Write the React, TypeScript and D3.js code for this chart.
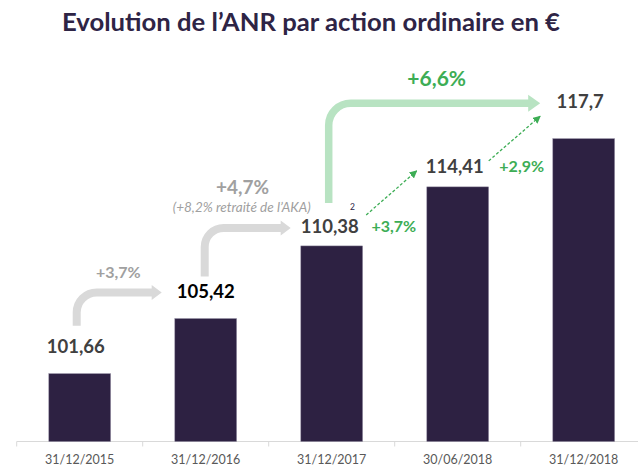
import React from "react";
import * as d3 from "d3";

const categories = ["31/12/2015", "31/12/2016", "31/12/2017", "30/06/2018", "31/12/2018"];
const values = [101.66, 105.42, 110.38, 114.41, 117.7];
const valueLabels = ["101,66", "105,42", "110,38", "114,41", "117,7"];
const greyChanges = ["+3,7%", "+4,7%"];
const greenChanges = ["+3,7%", "+2,9%"];
const totalChange = "+6,6%";
const noteText = "(+8,2% retraité de l’AKA)";
const title = "Evolution de l’ANR par action ordinaire en €";

const W = 638;
const H = 467;
const BASE = 441.5;
const FONT = "Lato, 'Open Sans', sans-serif";
const BAR = "#2d2142";
const GREY_ARROW = "#d9d9d9";
const GREY_TEXT = "#a0a0a0";
const GREEN = "#3dad55";
const LIGHT_GREEN = "#b8e3c2";

// label offsets above the bar tops (styling)
const labelOffsets = [27, 27, 20, 20.5, 37];
const labelDx = [-4, 0, -2, -3, -3.5];
const labelColors = ["#404040", "#000000", "#404040", "#404040", "#404040"];

function bentArrow(vx: number, y0: number, hy: number, tipX: number, r: number, headLen: number, headHalf: number) {
  const baseX = tipX - headLen;
  const line = `M${vx},${y0} L${vx},${hy + r} A${r},${r} 0 0 1 ${vx + r},${hy} L${baseX + 1},${hy}`;
  const head = `M${baseX},${hy - headHalf} L${tipX},${hy} L${baseX},${hy + headHalf} Z`;
  return { line, head };
}

export default function App() {
  const x = d3
    .scaleBand<string>()
    .domain(categories)
    .range([16.7, 646.7])
    .paddingInner(0.51)
    .paddingOuter(0.255);
  const y = d3.scaleLinear().domain([97.03, 120]).range([BASE, BASE - (120 - 97.03) * 14.65]);
  const xc = (i: number) => (x(categories[i]) as number) + x.bandwidth() / 2;
  const step = x.step();
  const labelY = (i: number) => y(values[i]) - labelOffsets[i];

  const a1 = bentArrow(xc(0) - 3, labelY(0) - 21, labelY(1) + 1, xc(1) - 44, 20, 10, 7.5);
  const a2 = bentArrow(xc(1) - 1, labelY(1) - 15, labelY(2) + 2, xc(2) - 41, 19, 10, 7.5);
  const a3 = bentArrow(xc(2) - 3, labelY(2) - 23, labelY(4) + 1.6, xc(4) - 43.5, 22, 12, 8.5);

  const dashed = [
    { x1: xc(2) + 34.5, y1: labelY(2) - 11, x2: xc(3) - 41, y2: labelY(3) + 4.5 },
    { x1: xc(3) + 31, y1: labelY(3) - 5.5, x2: xc(4) - 43.5, y2: labelY(4) + 14.5 },
  ];

  const ticks = d3.range(categories.length + 1).map((i) => 16.7 + i * step);

  return (
    <div style={{ position: "absolute", left: 0, top: 0, width: W, height: H, background: "#fff" }}>
      <svg width={W} height={H} style={{ display: "block" }}>
        <defs>
          <marker id="gh" viewBox="0 0 10 10" refX="9" refY="5" markerWidth="6" markerHeight="6" orient="auto">
            <path d="M0,0 L10,5 L0,10 Z" fill={GREEN} />
          </marker>
        </defs>
        <text
          x={311}
          y={31}
          textAnchor="middle"
          fontFamily={FONT}
          fontWeight="bold"
          fontSize={25}
          fill="#2e2445"
          textLength={498}
          lengthAdjust="spacingAndGlyphs"
        >
          {title}
        </text>

        {/* axis */}
        <line x1={16.7} x2={W} y1={BASE} y2={BASE} stroke="#d9d9d9" strokeWidth={1} />
        {ticks.map((t, i) => (
          <line key={i} x1={t} x2={t} y1={BASE} y2={BASE + 5} stroke="#d9d9d9" strokeWidth={1} />
        ))}
        {categories.map((c, i) => (
          <text key={c} x={xc(i)} y={464} textAnchor="middle" fontFamily={FONT} fontSize={12.5} fill="#595959">
            {c}
          </text>
        ))}

        {/* bars */}
        {values.map((v, i) => (
          <rect
            key={i}
            x={x(categories[i])}
            y={y(v)}
            width={x.bandwidth()}
            height={BASE - y(v)}
            fill={BAR}
            stroke="#8a8399"
            strokeWidth={0.5}
          />
        ))}

        {/* value labels */}
        {values.map((v, i) => (
          <text
            key={i}
            x={xc(i) + labelDx[i]}
            y={labelY(i)}
            dy="0.36em"
            textAnchor="middle"
            fontFamily={FONT}
            fontWeight="bold"
            fontSize={18.5}
            fill={labelColors[i]}
          >
            {valueLabels[i]}
          </text>
        ))}
        <text x={352.5} y={207.5} dy="0.35em" textAnchor="middle" fontFamily={FONT} fontSize={8.5} fill="#2e2445">
          2
        </text>

        {/* grey arrows */}
        {[a1, a2].map((a, i) => (
          <g key={i}>
            <path d={a.line} fill="none" stroke={GREY_ARROW} strokeWidth={8} />
            <path d={a.head} fill={GREY_ARROW} />
          </g>
        ))}
        <text x={118.3} y={272.7} dy="0.36em" textAnchor="middle" fontFamily={FONT} fontWeight="bold" fontSize={16} fill={GREY_TEXT}>
          {greyChanges[0]}
        </text>
        <text x={242.5} y={187.3} dy="0.36em" textAnchor="middle" fontFamily={FONT} fontWeight="bold" fontSize={19} fill={GREY_TEXT}>
          {greyChanges[1]}
        </text>
        <text
          x={241.7}
          y={207.7}
          dy="0.36em"
          textAnchor="middle"
          fontFamily={FONT}
          fontStyle="italic"
          fontSize={12.5}
          fill={GREY_TEXT}
          textLength={138}
          lengthAdjust="spacingAndGlyphs"
        >
          {noteText}
        </text>

        {/* green big arrow */}
        <path d={a3.line} fill="none" stroke={LIGHT_GREEN} strokeWidth={7.5} />
        <path d={a3.head} fill={LIGHT_GREEN} />
        <text x={436.7} y={78.8} dy="0.36em" textAnchor="middle" fontFamily={FONT} fontWeight="bold" fontSize={21} fill={GREEN}>
          {totalChange}
        </text>

        {/* dashed green arrows */}
        {dashed.map((d, i) => (
          <line
            key={i}
            x1={d.x1}
            y1={d.y1}
            x2={d.x2}
            y2={d.y2}
            stroke={GREEN}
            strokeWidth={1.3}
            strokeDasharray="3 2"
            markerEnd="url(#gh)"
          />
        ))}
        <text x={393.8} y={226.7} dy="0.36em" textAnchor="middle" fontFamily={FONT} fontWeight="bold" fontSize={16} fill={GREEN}>
          {greenChanges[0]}
        </text>
        <text x={521.7} y={166} dy="0.36em" textAnchor="middle" fontFamily={FONT} fontWeight="bold" fontSize={16} fill={GREEN}>
          {greenChanges[1]}
        </text>
      </svg>
    </div>
  );
}
